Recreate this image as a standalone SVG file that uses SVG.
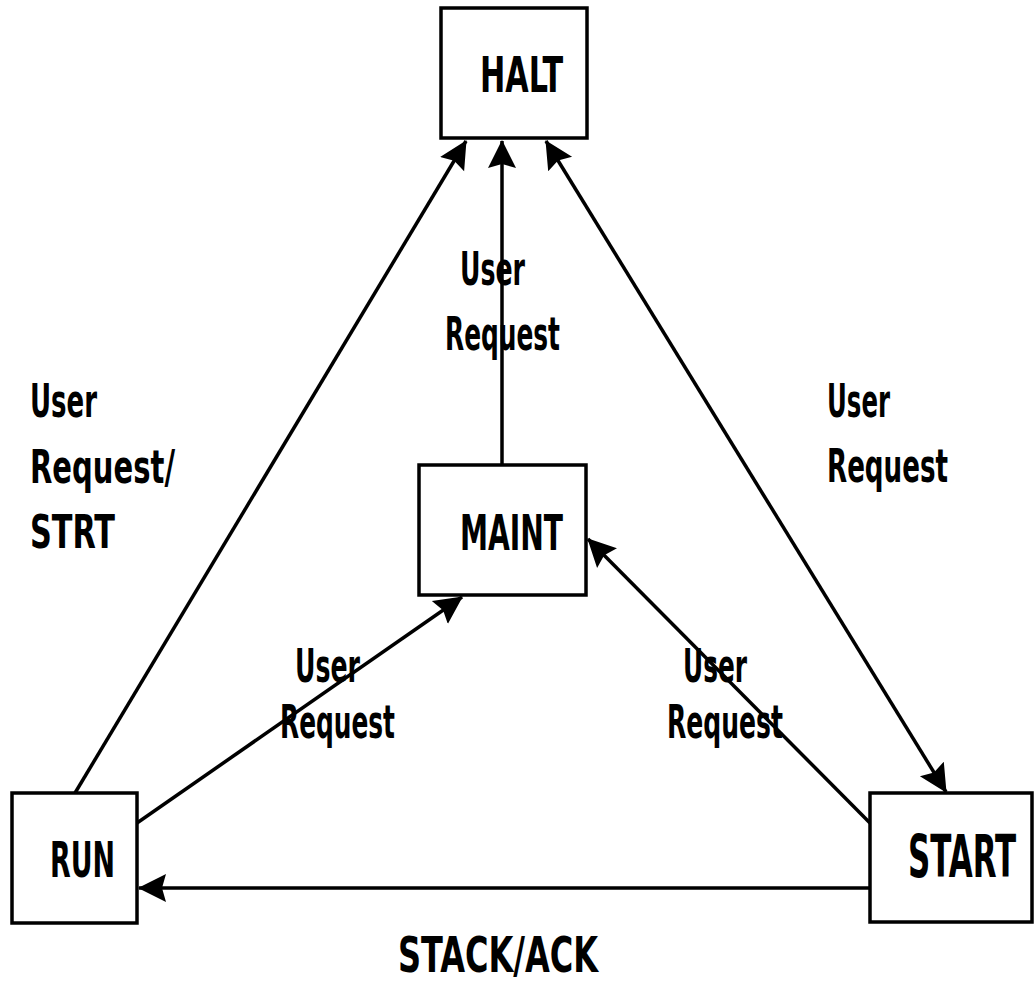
<svg xmlns="http://www.w3.org/2000/svg" width="1036" height="982" viewBox="0 0 1036 982">
  <style>
    .box { fill: #fff; stroke: #000; stroke-width: 3.5; }
    .edge { fill: none; stroke: #000; stroke-width: 3.5; }
    .name { font-family: "DejaVu Sans Condensed", "Liberation Sans", sans-serif; font-weight: bold; font-size: 50px; fill: #000; }
    .lbl { font-family: "DejaVu Sans Condensed", "Liberation Sans", sans-serif; font-weight: bold; font-size: 46px; fill: #000; }
  </style>
  <defs>
    <marker id="head" markerUnits="userSpaceOnUse" markerWidth="32" markerHeight="32" refX="27" refY="14" orient="auto-start-reverse" viewBox="0 0 32 28">
      <path d="M0,0 L28,14 L0,28 L4,14 Z" fill="#000"/>
    </marker>
  </defs>

  <rect width="1036" height="982" fill="#fff"/>

  <!-- connectors -->
  <g id="connectors">
    <!-- RUN -> HALT -->
    <line class="edge" x1="75" y1="793" x2="466" y2="141" marker-end="url(#head)"/>
    <!-- MAINT -> HALT -->
    <line class="edge" x1="502" y1="465" x2="502" y2="141" marker-end="url(#head)"/>
    <!-- HALT <-> START -->
    <line class="edge" x1="546" y1="141" x2="946" y2="792" marker-start="url(#head)" marker-end="url(#head)"/>
    <!-- RUN -> MAINT -->
    <line class="edge" x1="137" y1="823" x2="462" y2="597" marker-end="url(#head)"/>
    <!-- START -> MAINT -->
    <line class="edge" x1="870" y1="823" x2="588" y2="539" marker-end="url(#head)"/>
    <!-- START -> RUN -->
    <line class="edge" x1="870" y1="888" x2="139" y2="888" marker-end="url(#head)"/>
  </g>

  <!-- nodes -->
  <g id="halt">
    <rect class="box" x="441" y="8" width="146" height="130"/>
    <text class="name" x="480" y="92" textLength="83" lengthAdjust="spacingAndGlyphs">HALT</text>
  </g>
  <g id="maint">
    <rect class="box" x="419" y="465" width="167" height="130"/>
    <text class="name" x="460" y="550" textLength="103" lengthAdjust="spacingAndGlyphs">MAINT</text>
  </g>
  <g id="run">
    <rect class="box" x="12" y="793" width="125" height="130"/>
    <text class="name" x="50" y="877" textLength="65" lengthAdjust="spacingAndGlyphs">RUN</text>
  </g>
  <g id="start">
    <rect class="box" x="870" y="793" width="162" height="129"/>
    <!-- smaller face stretched vertically so the label stays inside the box -->
    <text class="name" transform="translate(908,877) scale(1,1.19)" x="0" y="0" font-size="42" textLength="108" lengthAdjust="spacingAndGlyphs">START</text>
  </g>

  <!-- edge labels -->
  <g id="labels">
    <text class="lbl" x="30" y="417" textLength="67" lengthAdjust="spacingAndGlyphs">User</text>
    <text class="lbl" x="30" y="483" textLength="145" lengthAdjust="spacingAndGlyphs">Request/</text>
    <text class="lbl" x="30" y="548" textLength="85" lengthAdjust="spacingAndGlyphs">STRT</text>

    <text class="lbl" x="460" y="285" textLength="65" lengthAdjust="spacingAndGlyphs">User</text>
    <text class="lbl" x="445" y="350" textLength="115" lengthAdjust="spacingAndGlyphs">Request</text>

    <text class="lbl" x="827" y="417" textLength="63" lengthAdjust="spacingAndGlyphs">User</text>
    <text class="lbl" x="827" y="482" textLength="121" lengthAdjust="spacingAndGlyphs">Request</text>

    <text class="lbl" x="295" y="682" textLength="65" lengthAdjust="spacingAndGlyphs">User</text>
    <text class="lbl" x="280" y="738" textLength="115" lengthAdjust="spacingAndGlyphs">Request</text>

    <text class="lbl" x="683" y="682" textLength="64" lengthAdjust="spacingAndGlyphs">User</text>
    <text class="lbl" x="667" y="738" textLength="116" lengthAdjust="spacingAndGlyphs">Request</text>

    <text class="name" x="398" y="972" font-size="48" textLength="200" lengthAdjust="spacingAndGlyphs">STACK/ACK</text>
  </g>
</svg>
